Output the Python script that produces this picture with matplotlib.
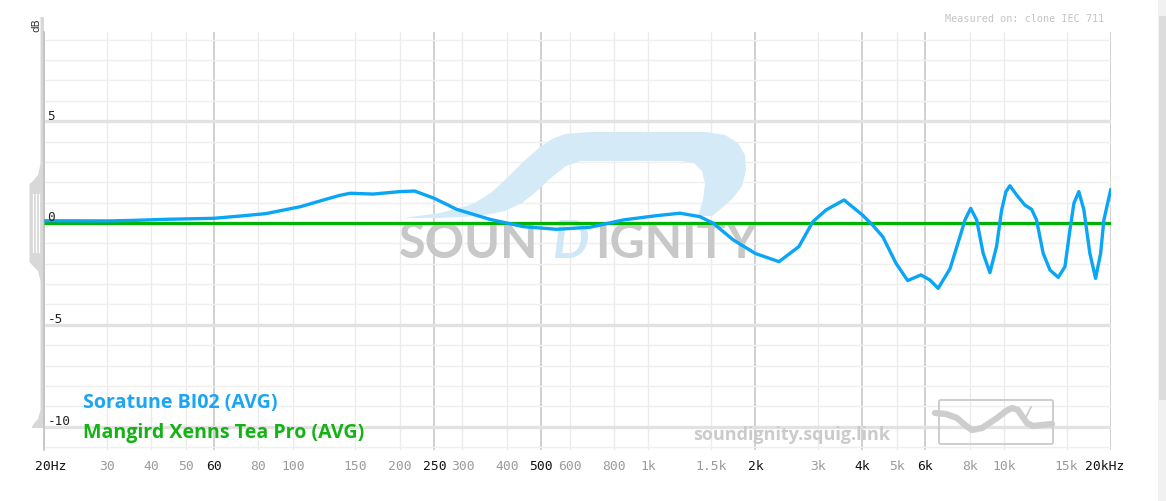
import matplotlib.pyplot as plt
import matplotlib.transforms as mtransforms
from matplotlib.patches import Polygon, FancyBboxPatch

# frequency response (Hz, dB)
bi02_freq = [20, 30, 36, 44, 60, 71, 84, 105, 122, 135, 145, 168, 200, 220, 250, 289, 358,
             445, 552, 685, 850, 1055, 1227, 1396, 1521, 1732, 2000, 2330, 2650, 2900,
             3160, 3550, 4000, 4270, 4560, 4970, 5360, 5840, 6190, 6530, 7050, 7520,
             7770, 8060, 8380, 8740, 9130, 9530, 9850, 10130, 10390, 10850, 11450,
             11960, 12350, 12890, 13470, 14210, 14840, 15330, 15730, 16240, 16780,
             17440, 18100, 18700, 19100, 20000]
bi02_db = [0.11, 0.10, 0.13, 0.18, 0.23, 0.34, 0.46, 0.80, 1.13, 1.35, 1.46, 1.42, 1.54, 1.57,
           1.21, 0.67, 0.18, -0.18, -0.31, -0.21, 0.15, 0.36, 0.48, 0.31, -0.01, -0.83,
           -1.50, -1.90, -1.16, 0.06, 0.64, 1.13, 0.39, -0.10, -0.67, -1.98, -2.83,
           -2.55, -2.80, -3.21, -2.25, -0.67, 0.15, 0.72, 0.15, -1.49, -2.44, -1.16,
           0.64, 1.54, 1.83, 1.38, 0.88, 0.67, 0.15, -1.49, -2.31, -2.67, -2.15, -0.34,
           0.97, 1.54, 0.64, -1.49, -2.72, -1.49, 0.15, 1.70]
tea_freq = [20, 20000]
tea_db = [0, 0]

major_x = [20, 60, 250, 500, 2000, 4000, 6000, 20000]
major_x_labels = ['20Hz', '60', '250', '500', '2k', '4k', '6k', '20kHz']
minor_x = [30, 40, 50, 80, 100, 150, 200, 300, 400, 600, 800, 1000, 1500,
           3000, 5000, 8000, 10000, 15000]
minor_x_labels = ['30', '40', '50', '80', '100', '150', '200', '300', '400', '600',
                  '800', '1k', '1.5k', '3k', '5k', '8k', '10k', '15k']
major_y = [-10, -5, 0, 5]
minor_y = [v for v in range(-11, 10) if v % 5 != 0]

W, H = 1166, 501
BLUE = '#0aa5f5'
GREEN = '#00b300'
MONO = 'DejaVu Sans Mono'

fig = plt.figure(figsize=(W / 100, H / 100), dpi=100)
fig.patch.set_facecolor('white')
ax = fig.add_axes([44.3 / W, (H - 450) / H, (1111 - 44.3) / W, (450 - 32) / H])
ax.set_facecolor('white')

ax.set_xscale('log')
ax.set_xlim(20, 20000)
ax.set_ylim(-11.15, 9.38)
ax.set_xticks(major_x)
ax.set_xticks(minor_x, minor=True)
ax.set_yticks(major_y)
ax.set_yticks(minor_y, minor=True)
ax.set_xticklabels([])
ax.set_xticklabels([], minor=True)
ax.set_yticklabels([])
ax.tick_params(which='both', length=0)
ax.set_axisbelow(True)
ax.grid(which='major', axis='x', color='#cdcdcd', lw=1.3)
ax.grid(which='minor', axis='x', color='#ebebeb', lw=1.0)
ax.grid(which='major', axis='y', color='#e2e2e2', lw=2.4)
ax.grid(which='minor', axis='y', color='#efefef', lw=1.0)
for side in ['top', 'right', 'bottom']:
    ax.spines[side].set_visible(False)
ax.spines['left'].set_color('#c2c2c2')
ax.spines['left'].set_linewidth(1.2)

# pixel coordinates for decorations
pix = mtransforms.Affine2D().scale(1 / W, -1 / H).translate(0, 1) + fig.transFigure

# watermark
swoosh = [(403, 218), (440, 213), (473, 204), (492, 192), (507, 178), (523, 162),
          (540, 147), (552, 139), (565, 134), (590, 132), (707, 132), (725, 135),
          (738, 143), (745, 155), (746, 170), (742, 186), (733, 198), (722, 208),
          (712, 216), (698, 216), (703, 200), (705, 184), (702, 171), (694, 163),
          (680, 161), (580, 161), (566, 166), (552, 177), (537, 191), (522, 203),
          (505, 211), (480, 216), (440, 218)]
ax.add_patch(Polygon(swoosh, closed=True, transform=pix, facecolor='#d4eaf7',
                     edgecolor='none', zorder=1.2, clip_on=False))
ax.text(538, 244, 'SOUN', transform=pix, ha='right', va='center', fontsize=35,
        fontfamily='Lato', fontweight='bold', color='#c8c8c8', zorder=1.3)
ax.text(570, 244, 'D', transform=pix, ha='center', va='center', fontsize=37,
        fontfamily='Lato', fontweight='bold', style='italic', color='#cfe7f6',
        zorder=1.3)
ax.text(595, 244, 'IGNITY', transform=pix, ha='left', va='center', fontsize=35,
        fontfamily='Lato', fontweight='bold', color='#c8c8c8', zorder=1.3)
ax.text(792, 435, 'soundignity.squig.link', transform=pix, ha='center',
        va='center', fontsize=13, fontfamily='Open Sans', fontweight='bold',
        color='#cbcbcb', zorder=1.3)

# logo box
ax.add_patch(FancyBboxPatch((939, 400), 114, 44, boxstyle='round,pad=0,rounding_size=2',
                            transform=pix, facecolor='none', edgecolor='#cdcdcd',
                            lw=1.4, zorder=1.3, clip_on=False))
squig_x = [935, 946, 957, 965, 972, 982, 997, 1006, 1012, 1018, 1022, 1027, 1033, 1042, 1052]
squig_y = [413, 414, 418, 425, 430, 428, 418, 411, 408, 410, 416, 423, 426, 425, 424]
ax.plot(squig_x, squig_y, transform=pix, color='#cdcdcd', lw=4.5,
        solid_capstyle='round', solid_joinstyle='round', zorder=1.3, clip_on=False)
ax.plot([1031, 1025], [407, 419], transform=pix, color='#cdcdcd', lw=1.3,
        zorder=1.3, clip_on=False)

# curves
ax.plot(tea_freq, tea_db, color=GREEN, lw=2.3, zorder=3, solid_capstyle='butt')
ax.plot(bi02_freq, bi02_db, color=BLUE, lw=2.4, zorder=4,
        solid_joinstyle='round', solid_capstyle='butt')

# y labels inside the plot
ylab = mtransforms.blended_transform_factory(ax.transAxes, ax.transData)
for v in major_y:
    ax.text(0.003, v - 0.07, str(v), transform=ylab, ha='left', va='bottom',
            fontsize=9.2, fontfamily=MONO, color='#222222', zorder=5)

# x labels
xlab = mtransforms.blended_transform_factory(ax.transData, ax.transAxes)
ly = -17 / 418
for f, t in zip(major_x, major_x_labels):
    dx = 6 if t == '20Hz' else (-6 if t == '20kHz' else 0)
    tr = mtransforms.offset_copy(xlab, fig=fig, x=dx, y=0, units='dots')
    ax.text(f, ly, t, transform=tr, ha='center', va='center', fontsize=9.4,
            fontfamily=MONO, color='#111111', clip_on=False)
for f, t in zip(minor_x, minor_x_labels):
    ax.text(f, ly, t, transform=xlab, ha='center', va='center', fontsize=9.4,
            fontfamily=MONO, color='#9a9a9a', clip_on=False)

# legend names
ax.text(83, 403, 'Soratune BI02 (AVG)', transform=pix, ha='left', va='center',
        fontsize=14.1, fontfamily='Open Sans', fontweight='bold', color='#1aa6f2',
        zorder=6, clip_on=False)
ax.text(83, 433, 'Mangird Xenns Tea Pro (AVG)', transform=pix, ha='left',
        va='center', fontsize=14.1, fontfamily='Open Sans', fontweight='bold',
        color='#12b312', zorder=6, clip_on=False)

# top texts
ax.text(1104, 19, 'Measured on: clone IEC 711', transform=pix, ha='right',
        va='center', fontsize=7.3, fontfamily=MONO, color='#c4c4c4', clip_on=False)
ax.text(36, 25, 'dB', transform=pix, ha='center', va='center', rotation=90,
        fontsize=7.5, color='#333333', clip_on=False)

# y scale handle on the left
handle = [(40.5, 17), (44, 17), (44, 428), (31.5, 428), (33.5, 424), (38, 419),
          (40.5, 410), (40.5, 281), (38, 271), (33, 266), (29.5, 262), (29.5, 184),
          (33, 181), (38, 175), (40.5, 164)]
ax.add_patch(Polygon(handle, closed=True, transform=pix, facecolor='#d8d8d8',
                     edgecolor='none', zorder=0.5, clip_on=False))
for gx in [32.5, 35.5, 38.5]:
    ax.plot([gx, gx], [194, 252], transform=pix, color='white', lw=0.9,
            zorder=0.6, clip_on=False)

# scrollbar strip on the right edge
ax.add_patch(Polygon([(1158, 0), (1166, 0), (1166, 501), (1158, 501)], transform=pix,
                     facecolor='#f1f1f1', edgecolor='none', clip_on=False, zorder=0.4))
ax.add_patch(Polygon([(1159, 16), (1166, 16), (1166, 400), (1159, 400)], transform=pix,
                     facecolor='#dcdcdc', edgecolor='none', clip_on=False, zorder=0.45))

fig.savefig('out.png', dpi=100)
